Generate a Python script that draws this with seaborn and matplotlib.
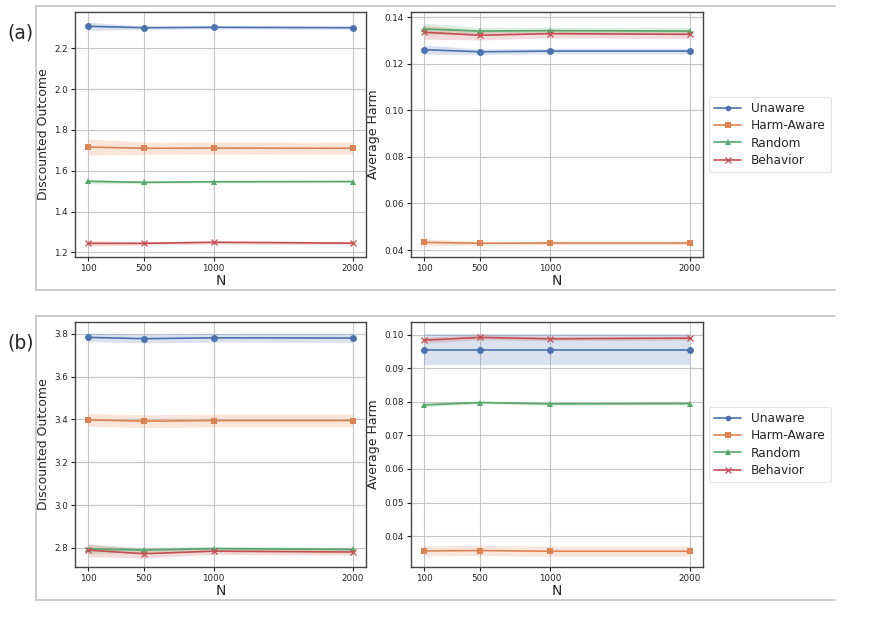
import numpy as np
import pandas as pd
import matplotlib
matplotlib.use("Agg")
import matplotlib.pyplot as plt
import seaborn as sns
from matplotlib.lines import Line2D

# ---------------- data ----------------
N_values = [100, 500, 1000, 2000]
policies = ["Unaware", "Harm-Aware", "Random", "Behavior"]
markers = ["o", "s", "^", "x"]

# panel (a)
a_outcome = {
    "Unaware":    [2.308, 2.301, 2.303, 2.301],
    "Harm-Aware": [1.716, 1.710, 1.711, 1.710],
    "Random":     [1.548, 1.543, 1.546, 1.547],
    "Behavior":   [1.244, 1.244, 1.249, 1.245],
}
a_outcome_err = {
    "Unaware":    [0.020, 0.008, 0.008, 0.008],
    "Harm-Aware": [0.040, 0.030, 0.030, 0.030],
    "Random":     [0.012, 0.006, 0.006, 0.006],
    "Behavior":   [0.014, 0.008, 0.008, 0.008],
}
a_harm = {
    "Unaware":    [0.1261, 0.1252, 0.1255, 0.1255],
    "Harm-Aware": [0.0433, 0.0429, 0.0430, 0.0430],
    "Random":     [0.1350, 0.1341, 0.1343, 0.1341],
    "Behavior":   [0.1336, 0.1323, 0.1330, 0.1327],
}
a_harm_err = {
    "Unaware":    [0.0020, 0.0012, 0.0012, 0.0012],
    "Harm-Aware": [0.0015, 0.0008, 0.0008, 0.0008],
    "Random":     [0.0025, 0.0015, 0.0015, 0.0015],
    "Behavior":   [0.0030, 0.0020, 0.0018, 0.0018],
}

# panel (b)
b_outcome = {
    "Unaware":    [3.784, 3.778, 3.782, 3.781],
    "Harm-Aware": [3.398, 3.392, 3.395, 3.395],
    "Random":     [2.794, 2.789, 2.796, 2.792],
    "Behavior":   [2.789, 2.772, 2.784, 2.780],
}
b_outcome_err = {
    "Unaware":    [0.020, 0.020, 0.020, 0.020],
    "Harm-Aware": [0.030, 0.030, 0.030, 0.030],
    "Random":     [0.022, 0.012, 0.010, 0.010],
    "Behavior":   [0.030, 0.020, 0.015, 0.015],
}
b_harm = {
    "Unaware":    [0.0956, 0.0956, 0.0956, 0.0956],
    "Harm-Aware": [0.0356, 0.0357, 0.0355, 0.0355],
    "Random":     [0.0791, 0.0798, 0.0794, 0.0795],
    "Behavior":   [0.0984, 0.0992, 0.0988, 0.0990],
}
b_harm_err = {
    "Unaware":    [0.0047, 0.0047, 0.0047, 0.0047],
    "Harm-Aware": [0.0015, 0.0015, 0.0015, 0.0015],
    "Random":     [0.0006, 0.0004, 0.0004, 0.0004],
    "Behavior":   [0.0009, 0.0007, 0.0006, 0.0006],
}

colors = sns.color_palette("deep", 4)

# ---------------- style ----------------
sns.set_style("white")
plt.rcParams["font.family"] = ["DejaVu Sans"]

W, H = 878, 624
fig = plt.figure(figsize=(W / 100, H / 100), dpi=100)


def add_ax(left, right, top, bottom):
    return fig.add_axes([left / W, 1 - bottom / H, (right - left) / W, (bottom - top) / H])


def mstyle(m, c):
    if m == "x":
        return dict(markersize=4.5, markeredgewidth=0.9, markeredgecolor=c)
    return dict(markersize=5, markeredgewidth=0, markeredgecolor=c)


def draw(ax, means, errs, ylabel, ylim, yticks, yfmt):
    for i, p in enumerate(policies):
        df = pd.DataFrame({"N": N_values, "val": means[p]})
        lo = np.array(means[p]) - np.array(errs[p])
        hi = np.array(means[p]) + np.array(errs[p])
        ax.fill_between(N_values, lo, hi, color=colors[i], alpha=0.2, linewidth=0)
        sns.lineplot(data=df, x="N", y="val", ax=ax, color=colors[i],
                     marker=markers[i], linewidth=1.2, label=p, legend=False,
                     **mstyle(markers[i], colors[i]))
    ax.set_xticks(N_values)
    ax.set_xticklabels([str(n) for n in N_values])
    ax.set_yticks(yticks)
    ax.set_yticklabels([yfmt.format(v) for v in yticks])
    ax.set_ylim(*ylim)
    ax.set_xlim(5, 2095)
    ax.grid(True, color="#b8b8b8", linewidth=0.8, alpha=0.8)
    ax.set_axisbelow(True)
    ax.tick_params(axis="both", labelsize=6.3, length=3, width=0.8, colors="#222222",
                   direction="out", left=True, bottom=True, pad=2)
    for s in ax.spines.values():
        s.set_color("#444444")
        s.set_linewidth(1.0)
    ax.set_xlabel("N", fontsize=10, labelpad=1)
    ax.set_ylabel(ylabel, fontsize=9, labelpad=3)


panels = [
    (12, 257, 6, 290, "(a)", a_outcome, a_outcome_err, (1.177, 2.378),
     [1.2, 1.4, 1.6, 1.8, 2.0, 2.2], "{:.1f}",
     a_harm, a_harm_err, (0.037, 0.1423), [0.04, 0.06, 0.08, 0.10, 0.12, 0.14], "{:.2f}"),
    (322, 567, 316, 600, "(b)", b_outcome, b_outcome_err, (2.71, 3.856),
     [2.8, 3.0, 3.2, 3.4, 3.6, 3.8], "{:.1f}",
     b_harm, b_harm_err, (0.0308, 0.1038), [0.04, 0.05, 0.06, 0.07, 0.08, 0.09, 0.10], "{:.2f}"),
]

for (top, bottom, ftop, fbot, lab, om, oe, oyl, oyt, ofmt, hm, he, hyl, hyt, hfmt) in panels:
    # panel frame (top, left, bottom lines)
    fx0, fx1 = 36 / W, 835 / W
    fy0, fy1 = 1 - fbot / H, 1 - ftop / H
    for xs, ys in [([fx0, fx1], [fy1, fy1]), ([fx0, fx1], [fy0, fy0]), ([fx0, fx0], [fy0, fy1])]:
        fig.add_artist(Line2D(xs, ys, transform=fig.transFigure, color="#c4c4c4", linewidth=1.2))
    fig.text(7 / W, 1 - (top + 21) / H, lab, fontsize=13.5, ha="left", va="center")

    ax1 = add_ax(75, 366, top, bottom)
    draw(ax1, om, oe, "Discounted Outcome", oyl, oyt, ofmt)
    ax2 = add_ax(411, 703, top, bottom)
    draw(ax2, hm, he, "Average Harm", hyl, hyt, hfmt)

    handles = []
    for i in range(4):
        st = mstyle(markers[i], colors[i])
        st["markersize"] = 4
        handles.append(Line2D([], [], color=colors[i], marker=markers[i], linewidth=1.2, **st))
    leg = ax2.legend(handles, policies, loc="center left", bbox_to_anchor=(1.0, 0.5),
                     fontsize=8.7, frameon=True, handlelength=2.2, borderpad=0.45,
                     labelspacing=0.35, handletextpad=0.8)
    leg.get_frame().set_edgecolor("#dddddd")
    leg.get_frame().set_linewidth(0.8)

fig.savefig("out.png", dpi=100)
